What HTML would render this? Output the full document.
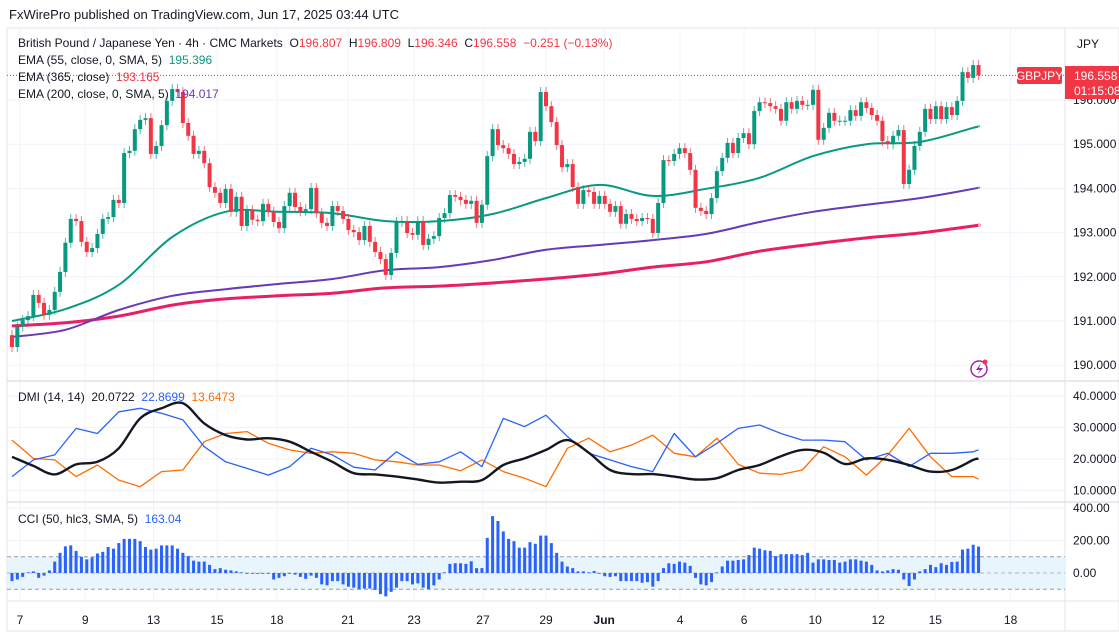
<!DOCTYPE html>
<html><head><meta charset="utf-8">
<style>
body{margin:0;width:1119px;height:640px;background:#fff;overflow:hidden;font-family:"Liberation Sans",sans-serif;color:#131722}
#hdr{position:absolute;left:9px;top:7px;font-size:13px}
svg{position:absolute;left:0;top:0}
.lg{position:absolute;left:18px;font-size:12px;white-space:nowrap}
</style></head><body>
<div id="hdr">FxWirePro published on TradingView.com, Jun 17, 2025 03:44 UTC</div>
<svg id="c" width="1119" height="640"></svg>
<div class="lg" style="top:36px">British Pound / Japanese Yen · 4h · CMC Markets &nbsp;O<span style="color:#f23645">196.807</span> &nbsp;H<span style="color:#f23645">196.809</span> &nbsp;L<span style="color:#f23645">196.346</span> &nbsp;C<span style="color:#f23645">196.558</span> &nbsp;<span style="color:#f23645">−0.251 (−0.13%)</span></div>
<div class="lg" style="top:53px">EMA (55, close, 0, SMA, 5) &nbsp;<span style="color:#089981">195.396</span></div>
<div class="lg" style="top:70px">EMA (365, close) &nbsp;<span style="color:#f23645">193.165</span></div>
<div class="lg" style="top:87px">EMA (200, close, 0, SMA, 5) &nbsp;<span style="color:#673ab7">194.017</span></div>
<div class="lg" style="top:390px">DMI (14, 14) &nbsp;20.0722 &nbsp;<span style="color:#2962ff">22.8699</span> &nbsp;<span style="color:#ff6d00">13.6473</span></div>
<div class="lg" style="top:512px">CCI (50, hlc3, SMA, 5) &nbsp;<span style="color:#2962ff">163.04</span></div>
<script>
const closes=[190.41,190.87,191.02,191.11,191.59,191.41,191.14,191.25,191.66,192.11,192.77,193.31,193.26,192.79,192.56,192.65,192.97,193.31,193.35,193.74,193.67,194.80,194.85,195.34,195.55,195.59,194.78,194.96,195.43,195.98,196.25,196.18,195.48,195.19,194.78,194.85,194.57,194.03,193.90,193.67,193.99,193.47,193.81,193.15,193.51,193.29,193.26,193.65,193.47,193.24,193.10,193.60,193.90,193.58,193.49,193.53,194.01,193.44,193.22,193.15,193.60,193.49,193.31,193.06,193.01,192.83,193.15,192.79,192.56,192.40,192.04,192.54,193.24,193.26,192.99,192.95,193.26,192.72,192.86,192.92,193.33,193.44,193.85,193.81,193.74,193.65,193.72,193.22,193.63,194.73,195.34,194.98,194.91,194.78,194.55,194.60,194.67,195.28,195.07,196.18,
195.86,195.50,194.98,194.48,194.55,194.03,193.65,193.96,193.92,193.65,193.83,193.65,193.47,193.60,193.20,193.42,193.31,193.26,193.33,193.31,192.99,193.67,194.64,194.62,194.78,194.91,194.80,194.42,193.56,193.49,193.42,193.78,194.39,194.69,195.03,194.80,195.14,195.25,
195.00,195.75,195.95,195.93,195.86,195.80,195.53,195.95,195.80,195.98,195.89,195.89,196.23,195.10,195.37,195.71,195.53,195.53,195.53,195.77,195.64,195.95,195.82,195.66,195.53,195.07,195.00,195.19,195.32,194.10,194.42,194.96,195.28,195.80,195.57,195.86,195.57,195.84,195.66,195.98,196.63,196.50,196.79,196.56];
const firstOpen=190.68;
const ema55=[191.00,191.27,191.82,192.90,193.47,193.47,193.44,193.26,193.26,193.42,193.78,194.08,193.83,193.99,194.24,194.73,195.00,195.05,195.37,195.40];
const ema200=[190.64,190.80,191.25,191.57,191.72,191.84,191.95,192.15,192.22,192.38,192.61,192.72,192.83,192.97,193.24,193.47,193.63,193.78,193.99,194.02];
const ema365=[190.89,190.96,191.11,191.36,191.50,191.57,191.63,191.75,191.79,191.86,191.95,192.06,192.22,192.34,192.58,192.74,192.88,192.99,193.15,193.17];
const plusDI=[14.4,19.7,21.3,29.7,28.1,35.0,36.1,34.5,32.4,23.9,19.1,17.0,14.9,17.6,23.4,21.3,17.4,16.5,22.3,18.3,19.1,22.3,17.6,32.9,30.3,33.9,27.1,21.8,19.7,17.6,16.0,28.1,20.7,25.0,29.7,30.8,28.1,26.0,26.0,25.5,19.7,21.8,17.6,21.8,21.8,22.3,22.9];
const minusDI=[26.0,20.2,19.7,14.4,18.1,13.3,11.2,16.0,16.5,25.5,28.1,28.7,25.0,22.9,21.8,22.3,21.8,19.7,19.1,18.1,18.1,16.3,19.7,16.0,13.9,11.2,23.4,26.6,22.3,24.4,27.6,21.8,20.7,26.6,18.3,15.5,15.1,16.5,23.9,20.7,14.9,21.3,29.7,20.7,14.4,14.4,13.6];
const adx=[20.7,17.8,15.1,18.3,19.1,23.4,32.9,36.1,37.7,31.3,27.6,26.2,26.6,25.5,22.3,19.1,15.5,15.1,14.4,13.5,12.5,12.8,13.3,18.1,20.2,22.9,26.0,22.0,16.5,15.2,15.2,14.4,13.5,13.9,16.5,18.1,20.9,22.9,22.0,18.4,20.2,19.7,18.1,16.0,16.5,19.7,20.1];
const cci=[-50,-40,-24,4,10,-30,-16,16,70,124,164,170,136,100,84,96,120,130,160,150,184,210,210,210,196,160,144,150,170,170,170,150,124,104,76,70,70,50,24,30,20,16,10,4,0,-4,-4,-4,-4,-40,-30,-20,-4,-10,-24,-36,-16,-30,-70,-76,-50,-50,-70,-84,-90,-100,-96,-96,-104,-130,-144,-116,-90,-50,-50,-70,-64,-90,-100,-76,-40,4,56,60,60,56,72,30,30,216,350,320,256,210,196,156,156,190,180,230,230,184,124,
70,40,30,10,10,4,12,0,-20,-24,-20,-50,-50,-50,-50,-60,-56,-84,-50,30,60,56,70,64,44,-30,-70,-76,-56,4,40,76,76,80,84,110,156,150,140,136,104,116,116,116,116,110,124,64,84,84,80,80,64,70,84,84,76,70,50,16,10,16,24,20,-40,-80,-40,10,24,50,36,60,50,68,70,144,150,174,163];
const priceTicks=[196,195,194,193,192,191,190];
const dmiTicks=[40,30,20,10];
const cciTicks=[400,200,0];
const dateLabels=["7","9","13","15","18","21","23","27","29","Jun","4","6","10","12","15","18"];
const dateIdx=[1.5,13.7,26.5,38.4,49.6,62.9,75.3,88.2,100,110.9,125.1,137.1,150.4,162.2,172.9,187];

const NS="http://www.w3.org/2000/svg",svg=document.getElementById('c');
function el(t,a,p){const e=document.createElementNS(NS,t);for(const k in a)e.setAttribute(k,a[k]);(p||svg).appendChild(e);return e;}
const xOf=i=>12+i*5.34;
const yP=p=>100+(196-p)*44.2;
const yD=v=>459-(v-20)*3.15;
const yC=v=>573-v*0.1625;
const R=1065;
el('rect',{x:7,y:28,width:1112,height:603,fill:'none',stroke:'#e0e3eb'});
dateIdx.forEach(d=>{const g=el('line',{x1:xOf(d),x2:xOf(d),y1:29,y2:600,stroke:'#f0f3fa'});});
priceTicks.forEach(p=>{el('line',{x1:7,x2:R,y1:yP(p),y2:yP(p),stroke:'#f0f3fa'});const t=el('text',{x:1073,y:yP(p)+4,'font-size':12,fill:'#131722'});t.textContent=p.toFixed(3);});
dmiTicks.forEach(v=>{el('line',{x1:7,x2:R,y1:yD(v),y2:yD(v),stroke:'#f0f3fa'});const t=el('text',{x:1073,y:yD(v)+4,'font-size':12,fill:'#131722'});t.textContent=v.toFixed(4);});
cciTicks.forEach(v=>{el('line',{x1:7,x2:R,y1:yC(v),y2:yC(v),stroke:'#f0f3fa'});const t=el('text',{x:1073,y:yC(v)+4,'font-size':12,fill:'#131722'});t.textContent=v.toFixed(2);});
el('line',{x1:7,x2:1119,y1:381,y2:381,stroke:'#d1d4dc'});
el('line',{x1:7,x2:1119,y1:502,y2:502,stroke:'#d1d4dc'});
el('line',{x1:7,x2:1119,y1:601,y2:601,stroke:'#e0e3eb'});
el('line',{x1:R,x2:R,y1:28,y2:631,stroke:'#e0e3eb'});
dateLabels.forEach((s,i)=>{const t=el('text',{x:xOf(dateIdx[i]),y:624,'font-size':12,'text-anchor':'middle',fill:'#131722','font-weight':s==='Jun'?'bold':'normal'});t.textContent=s;});
el('rect',{x:7,y:yC(100),width:R-7,height:yC(-100)-yC(100),fill:'#e3f2fd',opacity:0.8});
[100,-100].forEach(v=>el('line',{x1:7,x2:R,y1:yC(v),y2:yC(v),stroke:'#9598a1','stroke-dasharray':'4 3'}));
el('line',{x1:7,x2:R,y1:yC(0),y2:yC(0),stroke:'#b2b5be','stroke-dasharray':'4 3'});
el('line',{x1:7,x2:R,y1:yP(196.558),y2:yP(196.558),stroke:'#f23645','stroke-dasharray':'1 2'});
function line(arr,xf,yf,col,w,name,smooth){
 const pts=arr.map((v,k)=>[xf(k),yf(v)]);let d='M'+pts[0][0].toFixed(1)+' '+pts[0][1].toFixed(1);
 for(let k=1;k<pts.length;k++){
  if(smooth){const p0=pts[Math.max(0,k-2)],p1=pts[k-1],p2=pts[k],p3=pts[Math.min(pts.length-1,k+1)];
   const c1=[p1[0]+(p2[0]-p0[0])/6,p1[1]+(p2[1]-p0[1])/6],c2=[p2[0]-(p3[0]-p1[0])/6,p2[1]-(p3[1]-p1[1])/6];
   d+=' C'+c1[0].toFixed(1)+' '+c1[1].toFixed(1)+' '+c2[0].toFixed(1)+' '+c2[1].toFixed(1)+' '+p2[0].toFixed(1)+' '+p2[1].toFixed(1);}
  else d+=' L'+pts[k][0].toFixed(1)+' '+pts[k][1].toFixed(1);}
 const p=el('path',{d:d,fill:'none',stroke:col,'stroke-width':w,'stroke-linejoin':'round'});}
const emaX=k=>xOf(Math.min(k*10,closes.length-1));
line(ema365,emaX,yP,'#e91e63',3,'ema365-line',true);
line(ema200,emaX,yP,'#673ab7',2,'ema200-line',true);
line(ema55,emaX,yP,'#089981',2,'ema55-line',true);
closes.forEach((c,i)=>{const o=i?closes[i-1]:firstOpen;const up=c>=o;const col=up?'#089981':'#f23645';
 const top=yP(Math.max(o,c)),bot=yP(Math.min(o,c));
 const w=el('line',{x1:xOf(i),x2:xOf(i),y1:top-5,y2:bot+5,stroke:col,'stroke-width':1,opacity:0.7});
 
 
 const b=el('rect',{x:xOf(i)-2,y:top,width:4,height:Math.max(1,bot-top),fill:col});
 
 });
const dX=k=>xOf(Math.min(k*4,closes.length-1));
line(minusDI,dX,yD,'#ff6d00',1.3,'minus-di-line',false);
line(plusDI,dX,yD,'#2962ff',1.3,'plus-di-line',false);
line(adx,dX,yD,'#131722',2.4,'adx-line',true);
cci.forEach((v,i)=>{const y0=yC(0),y1=yC(v);const r=el('rect',{x:xOf(i)-1.5,y:Math.min(y0,y1),width:3,height:Math.max(0.8,Math.abs(y1-y0)),fill:'#2962ff'});
 
 });
const g1=el('rect',{x:1017,y:67,width:45,height:17,fill:'#f23645',rx:2});
let t=el('text',{x:1039.5,y:80,'font-size':12,fill:'#fff','text-anchor':'middle'});t.textContent='GBPJPY';
const g2=el('rect',{x:1065,y:66,width:54,height:33,fill:'#f23645'});
t=el('text',{x:1074,y:80,'font-size':12,fill:'#fff'});t.textContent='196.558';
t=el('text',{x:1074,y:95,'font-size':12,fill:'#fff'});t.textContent='01:15:08';
const jb=el('rect',{x:1071,y:33,width:34,height:22,fill:'#fff',rx:3});
t=el('text',{x:1088,y:48,'font-size':12,fill:'#131722','text-anchor':'middle'});t.textContent='JPY';
const ic=el('circle',{cx:979,cy:369,r:8,fill:'none',stroke:'#9c27b0','stroke-width':1.5});
el('path',{d:'M981 363 L976 370 L980 370 L977 375 L983 368 L979 368 Z',fill:'#9c27b0'});
el('circle',{cx:985,cy:362,r:2.5,fill:'#f23645'});
</script>
</body></html>
